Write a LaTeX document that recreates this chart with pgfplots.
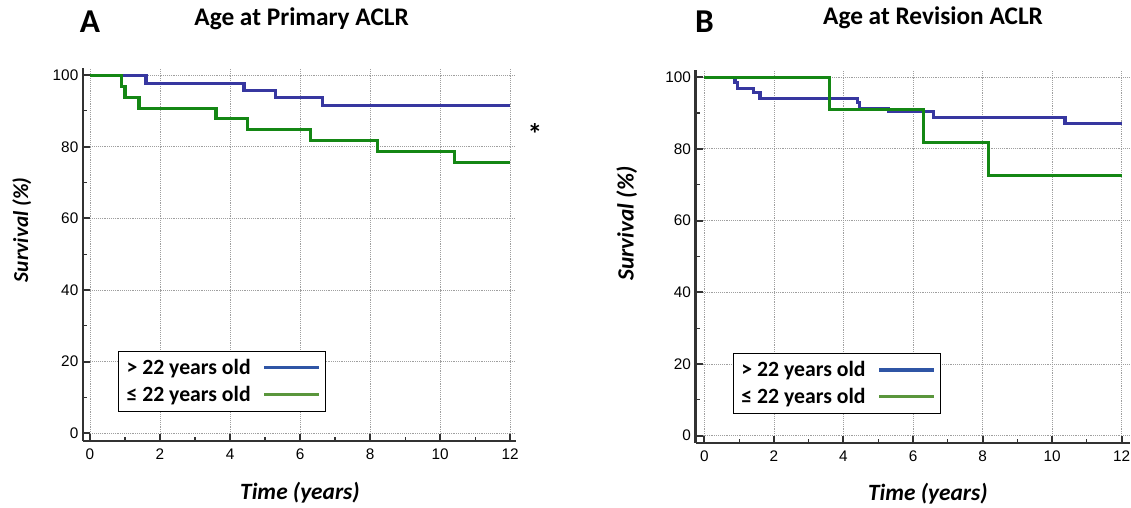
\documentclass[border=0pt]{standalone}
\usepackage{fontspec}
\setmainfont{Carlito}
\newfontfamily\arial{Liberation Sans}
\usepackage{pgfplots}
\pgfplotsset{compat=1.18}
\definecolor{kmblue}{RGB}{55,55,160}
\definecolor{kmgreen}{RGB}{20,135,20}
\definecolor{legblue}{RGB}{47,85,165}
\definecolor{leggreen}{RGB}{90,150,60}
\definecolor{axgray}{RGB}{50,50,50}

\pgfplotsset{
  kmstyle/.style={
    scale only axis,
    width=324.75pt, height=279.75pt,
    axis x line*=bottom, axis y line*=left,
    axis line style={-, line width=2.2pt, axgray},
    xtick={0,2,...,12}, ytick={0,20,...,100},
    minor x tick num=1, minor y tick num=1,
    tick align=inside,
    major tick length=5.5pt, minor tick length=3pt,
    major tick style={line width=1.5pt, axgray},
    minor tick style={line width=0.8pt, axgray},
    grid=major,
    major grid style={densely dotted, gray!75, line width=0.6pt},
    /pgf/number format/assume math mode=true,
    ticklabel style={font=\arial\fontsize{11.5}{13}\selectfont},
    xticklabel style={yshift=-2.5pt},
    title style={font=\bfseries\fontsize{19}{22}\selectfont, anchor=base},
    xlabel style={font=\bfseries\itshape\fontsize{17.5}{20}\selectfont, anchor=base},
    ylabel style={font=\bfseries\itshape\fontsize{16}{19}\selectfont, anchor=center},
    clip=false,
    legend cell align=left,
    legend plot pos=right,
    legend image code/.code={\draw[#1] (0pt,0pt) -- (41pt,0pt);},
    legend style={draw=black, line width=0.8pt, font=\bfseries\fontsize{16.3}{19}\selectfont,
      anchor=north west, inner xsep=4pt, inner ysep=4pt, row sep=3pt,
      /tikz/every odd column/.append style={column sep=7pt}},
    xlabel={Time (years)},
    ylabel={Survival (\%)},
  }
}

\begin{document}
\begin{tikzpicture}
\useasboundingbox (-62.25pt,-49.5pt) rectangle (786pt,330.75pt);

% Panel A
\begin{axis}[kmstyle,
  at={(0pt,0pt)}, anchor=south west,
  xmin=-0.2, xmax=12.17, ymin=-2.2, ymax=102,
  title={Age at Primary ACLR},
  title style={at={(axis description cs:0.505,1)}, yshift=26.25pt},
  xlabel style={at={(axis description cs:0.501,0)}, yshift=-43.7pt},
  ylabel style={at={(axis description cs:-0.141,0.566)}},
  legend style={at={(axis cs:0.8,23)}},
]
\addplot[const plot, kmblue, line width=2.3pt, forget plot] coordinates {
  (0,100) (1.6,97.8) (4.4,95.8) (5.3,93.7) (6.65,91.5) (12,91.5)
};
\addplot[const plot, kmgreen, line width=2.3pt, forget plot] coordinates {
  (0,100) (0.9,96.8) (1.0,93.8) (1.4,90.8) (3.6,87.8) (4.5,84.7)
  (6.3,81.7) (8.2,78.7) (10.4,75.5) (12,75.5)
};
\addlegendimage{legblue, line width=2.3pt}
\addlegendentry{> 22 years old}
\addlegendimage{leggreen, line width=2.3pt}
\addlegendentry{≤ 22 years old}
\node[font=\bfseries\fontsize{25}{28}\selectfont, anchor=base] at (axis cs:0,102) [yshift=26.25pt] {A};
\node[font=\bfseries\fontsize{22}{24}\selectfont] at (axis cs:12.71,83.5) {*};
\end{axis}

% Panel B
\begin{axis}[kmstyle,
  at={(459.5pt,-1.5pt)}, anchor=south west,
  width=325.5pt,
  xmin=-0.25, xmax=12.23, ymin=-2.04, ymax=102,
  title={Age at Revision ACLR},
  title style={at={(axis description cs:0.547,1)}, yshift=27.75pt},
  xlabel style={at={(axis description cs:0.535,0)}, yshift=-42.75pt},
  ylabel style={at={(axis description cs:-0.159,0.588)}, font=\bfseries\itshape\fontsize{17.5}{20}\selectfont},
  legend style={at={(axis cs:0.82,23.1)}},
]
\addplot[const plot, kmblue, line width=2.3pt, forget plot] coordinates {
  (0,100) (0.88,98.6) (0.95,96.9) (1.41,95.6) (1.6,94.1) (4.4,92.9)
  (4.45,91.2) (5.3,90.4) (6.6,88.7) (10.37,87.2) (12,87.2)
};
\addplot[const plot, kmgreen, line width=2.3pt, forget plot] coordinates {
  (0,100) (3.61,90.9) (6.29,81.8) (8.18,72.7) (12,72.7)
};
\addlegendimage{legblue, line width=2.3pt}
\addlegendentry{> 22 years old}
\addlegendimage{leggreen, line width=2.3pt}
\addlegendentry{≤ 22 years old}
\node[font=\bfseries\fontsize{25}{28}\selectfont, anchor=base] at (axis cs:0,102) [yshift=27.75pt] {B};
\end{axis}
\end{tikzpicture}
\end{document}
